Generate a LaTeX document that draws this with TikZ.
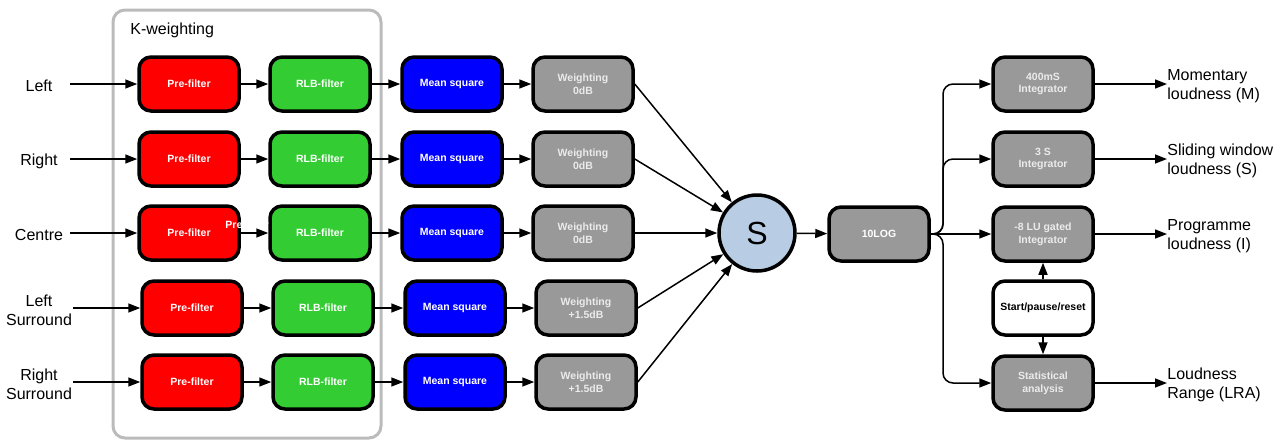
\documentclass[tikz,border=0pt]{standalone}
\usepackage{fontspec}
\setmainfont{Liberation Sans}
\usetikzlibrary{positioning,arrows.meta}

\definecolor{prered}{HTML}{FF0000}
\definecolor{rlbgreen}{HTML}{33CC33}
\definecolor{msblue}{HTML}{0000FF}
\definecolor{wgray}{HTML}{999999}
\definecolor{sumblue}{HTML}{B8CCE4}
\definecolor{framegray}{HTML}{BBBBBB}

\tikzset{
  block/.style = {draw = black, line width = 1.75pt, rounded corners = 6pt, minimum width = 50pt, minimum height = 27pt, align = center, inner sep = 1pt, text = white, font = \fontsize{5.25}{6.4}\selectfont\bfseries},
  pre/.style = {block, fill = prered},
  rlb/.style = {block, fill = rlbgreen},
  msq/.style = {block, fill = msblue},
  wgt/.style = {block, fill = wgray, text = white!92!black},
  ctl/.style = {block, fill = white, text = black},
  inlbl/.style = {align = center, font = \fontsize{8}{9.5}\selectfont},
  outlbl/.style = {align = left, anchor = west, inner sep = 0pt, font = \fontsize{8}{9.5}\selectfont},
  arr/.style = {line width = 0.75pt, -{Triangle[length = 6pt, width = 4.5pt]}},
}

\begin{document}
\begin{tikzpicture}[x = 0.5pt, y = -0.5pt]
\useasboundingbox (0,0) rectangle (1281,441);
% K-weighting frame
\draw[framegray, line width = 1.5pt, rounded corners = 6pt] (113,10) rectangle (381,438);
\node[anchor = west, inner sep = 0pt, font = \fontsize{8}{9.5}\selectfont] (kw) at (130,30) {K-weighting};

% channel rows
\foreach \i/\y/\d/\lab/\g in {1/84/0/Left/0dB, 2/159/0/Right/0dB, 3/233/0/Centre/0dB, 4/308/3/Left\\Surround/+1.5dB, 5/382/3/Right\\Surround/+1.5dB}{
  \node[inlbl] (in\i) at (39,\y+2) {\lab};
  \coordinate (src\i) at (70+\d,\y);
  \node[pre] (pre\i) at (189+\d,\y) {Pre-filter};
  \node[rlb] (rlb\i) at (320+\d,\y) {RLB-filter};
  \node[msq] (msq\i) at (452+\d,\y) {Mean square};
  \node[wgt] (wgt\i) at (583+\d,\y) {Weighting\\\g};
  \draw[arr] (src\i) -- (pre\i);
  \draw[arr] (pre\i) -- (rlb\i);
  \draw[arr] (rlb\i) -- (msq\i);
  \draw[arr] (msq\i) -- (wgt\i);
}

% sum and log
\node[circle, draw = black, line width = 1.75pt, fill = sumblue, minimum size = 38pt, inner sep = 0pt, font = \fontsize{16}{16}\selectfont] (sum) at (757,233) {S};
\foreach \i in {1,...,5}
  \draw[arr] (wgt\i.east) -- (sum);
\node[wgt, text = white] (log) at (879,234) {10LOG};
\draw[arr] (sum) -- (log);

% integrators
\node[wgt] (int1) at (1043,84) {400mS\\Integrator};
\node[wgt] (int2) at (1043,159) {3 S\\Integrator};
\node[wgt] (int3) at (1043,234) {-8 LU gated\\Integrator};
\node[ctl] (ctrl) at (1043,308) {Start/pause/reset};
\node[wgt] (stat) at (1043,383) {Statistical\\analysis};
\foreach \t in {int1,int2,stat}
  \draw[arr, rounded corners = 5pt] (log.east) -- (943,234) |- (\t.west);
\draw[arr] (log.east) -- (int3.west);
\draw[arr] (ctrl.north) -- (int3.south);
\draw[arr] (ctrl.south) -- (stat.north);

% outputs
\node[outlbl] (out1) at (1167,86) {Momentary\\loudness (M)};
\node[outlbl] (out2) at (1167,161) {Sliding window\\loudness (S)};
\node[outlbl] (out3) at (1167,236) {Programme\\loudness (I)};
\node[outlbl] (out4) at (1167,385) {Loudness\\Range (LRA)};
\draw[arr] (int1) -- (int1 -| out1.west);
\draw[arr] (int2) -- (int2 -| out2.west);
\draw[arr] (int3) -- (int3 -| out3.west);
\draw[arr] (stat) -- (stat -| out4.west);

\node[text = white, inner sep = 0pt, font = \fontsize{5.25}{6.4}\selectfont\bfseries] (stray) at (247,225) {Pre-filter};
\end{tikzpicture}
\end{document}
